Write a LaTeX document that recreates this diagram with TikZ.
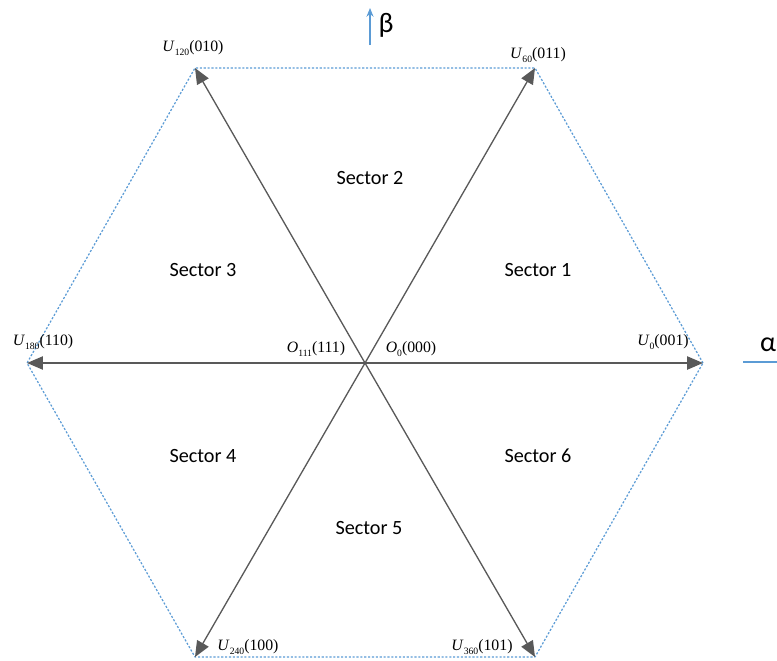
\documentclass[tikz,border=0pt]{standalone}
\usepackage{fontspec}
\setmainfont{Liberation Serif}
\newfontfamily\secfont{Carlito}
\usetikzlibrary{arrows.meta}
\definecolor{vecgray}{HTML}{595959}
\definecolor{hexblue}{HTML}{5B9BD5}
\newcommand{\vlab}[3]{\textit{#1}\raisebox{-0.45ex}{\fontsize{5.5}{6}\selectfont #2}(#3)}
\tikzset{
  vec/.style={draw=vecgray,line width=.75pt,-{Triangle[length=9pt,width=7.5pt]}},
  hexline/.style={draw=hexblue,line width=.7pt,dash pattern=on 1.2pt off 1pt},
  sector/.style={font=\secfont\fontsize{11.5}{13}\selectfont},
  vlabel/.style={font=\fontsize{9}{10}\selectfont,inner sep=0pt}
}
\begin{document}
\begin{tikzpicture}[x=0.02cm,y=-0.02cm,line join=round]
	\useasboundingbox (0,0) rectangle (777,660);
			\coordinate (O) at (365,363);
			\coordinate (U0) at (703,363);
			\coordinate (U60) at (535,68);
			\coordinate (U120) at (195,68);
			\coordinate (U180) at (27,363);
			\coordinate (U240) at (195,657);
			\coordinate (U360) at (535,657);
			\draw[hexline] (U0)--(U60)--(U120)--(U180)--(U240)--(U360)--cycle;
			\foreach \v in {U0,U60,U120,U180,U240,U360}
				\draw[vec] (O)--(\v);
			% sector names
			\node[sector] (S1) at (538,270) {Sector 1};
			\node[sector] (S2) at (370,178) {Sector 2};
			\node[sector] (S3) at (203,270) {Sector 3};
			\node[sector] (S4) at (203,456) {Sector 4};
			\node[sector] (S5) at (369,528) {Sector 5};
			\node[sector] (S6) at (538,456) {Sector 6};
			% vertex labels
			\node[vlabel] (L0) at (663,342) {\vlab{U}{0}{001}};
			\node[vlabel] (L60) at (538,55) {\vlab{U}{60}{011}};
			\node[vlabel] (L120) at (193,48) {\vlab{U}{120}{010}};
			\node[vlabel] (L180) at (43,342) {\vlab{U}{180}{110}};
			\node[vlabel] (L240) at (248,647) {\vlab{U}{240}{100}};
			\node[vlabel] (L360) at (482,647) {\vlab{U}{360}{101}};
			\node[vlabel] (L111) at (316,349) {\vlab{O}{111}{111}};
			\node[vlabel] (L000) at (411,349) {\vlab{O}{0}{000}};
			% axes
			\coordinate (Bs) at (370,45);
			\coordinate (Be) at (370,8);
			\draw[draw=hexblue,line width=.6pt,-{Stealth[length=5pt,width=4pt]}] (Bs)--(Be);
			\node[sector,font=\secfont\fontsize{16}{18}\selectfont] (beta) at (386,25) {β};
			\coordinate (As) at (743,362);
			\coordinate (Ae) at (777,362);
			\draw[draw=hexblue,line width=.6pt] (As)--(Ae);
			\node[sector,font=\secfont\fontsize{16}{18}\selectfont] (alpha) at (768,345) {α};
	\end{tikzpicture}
\end{document}
